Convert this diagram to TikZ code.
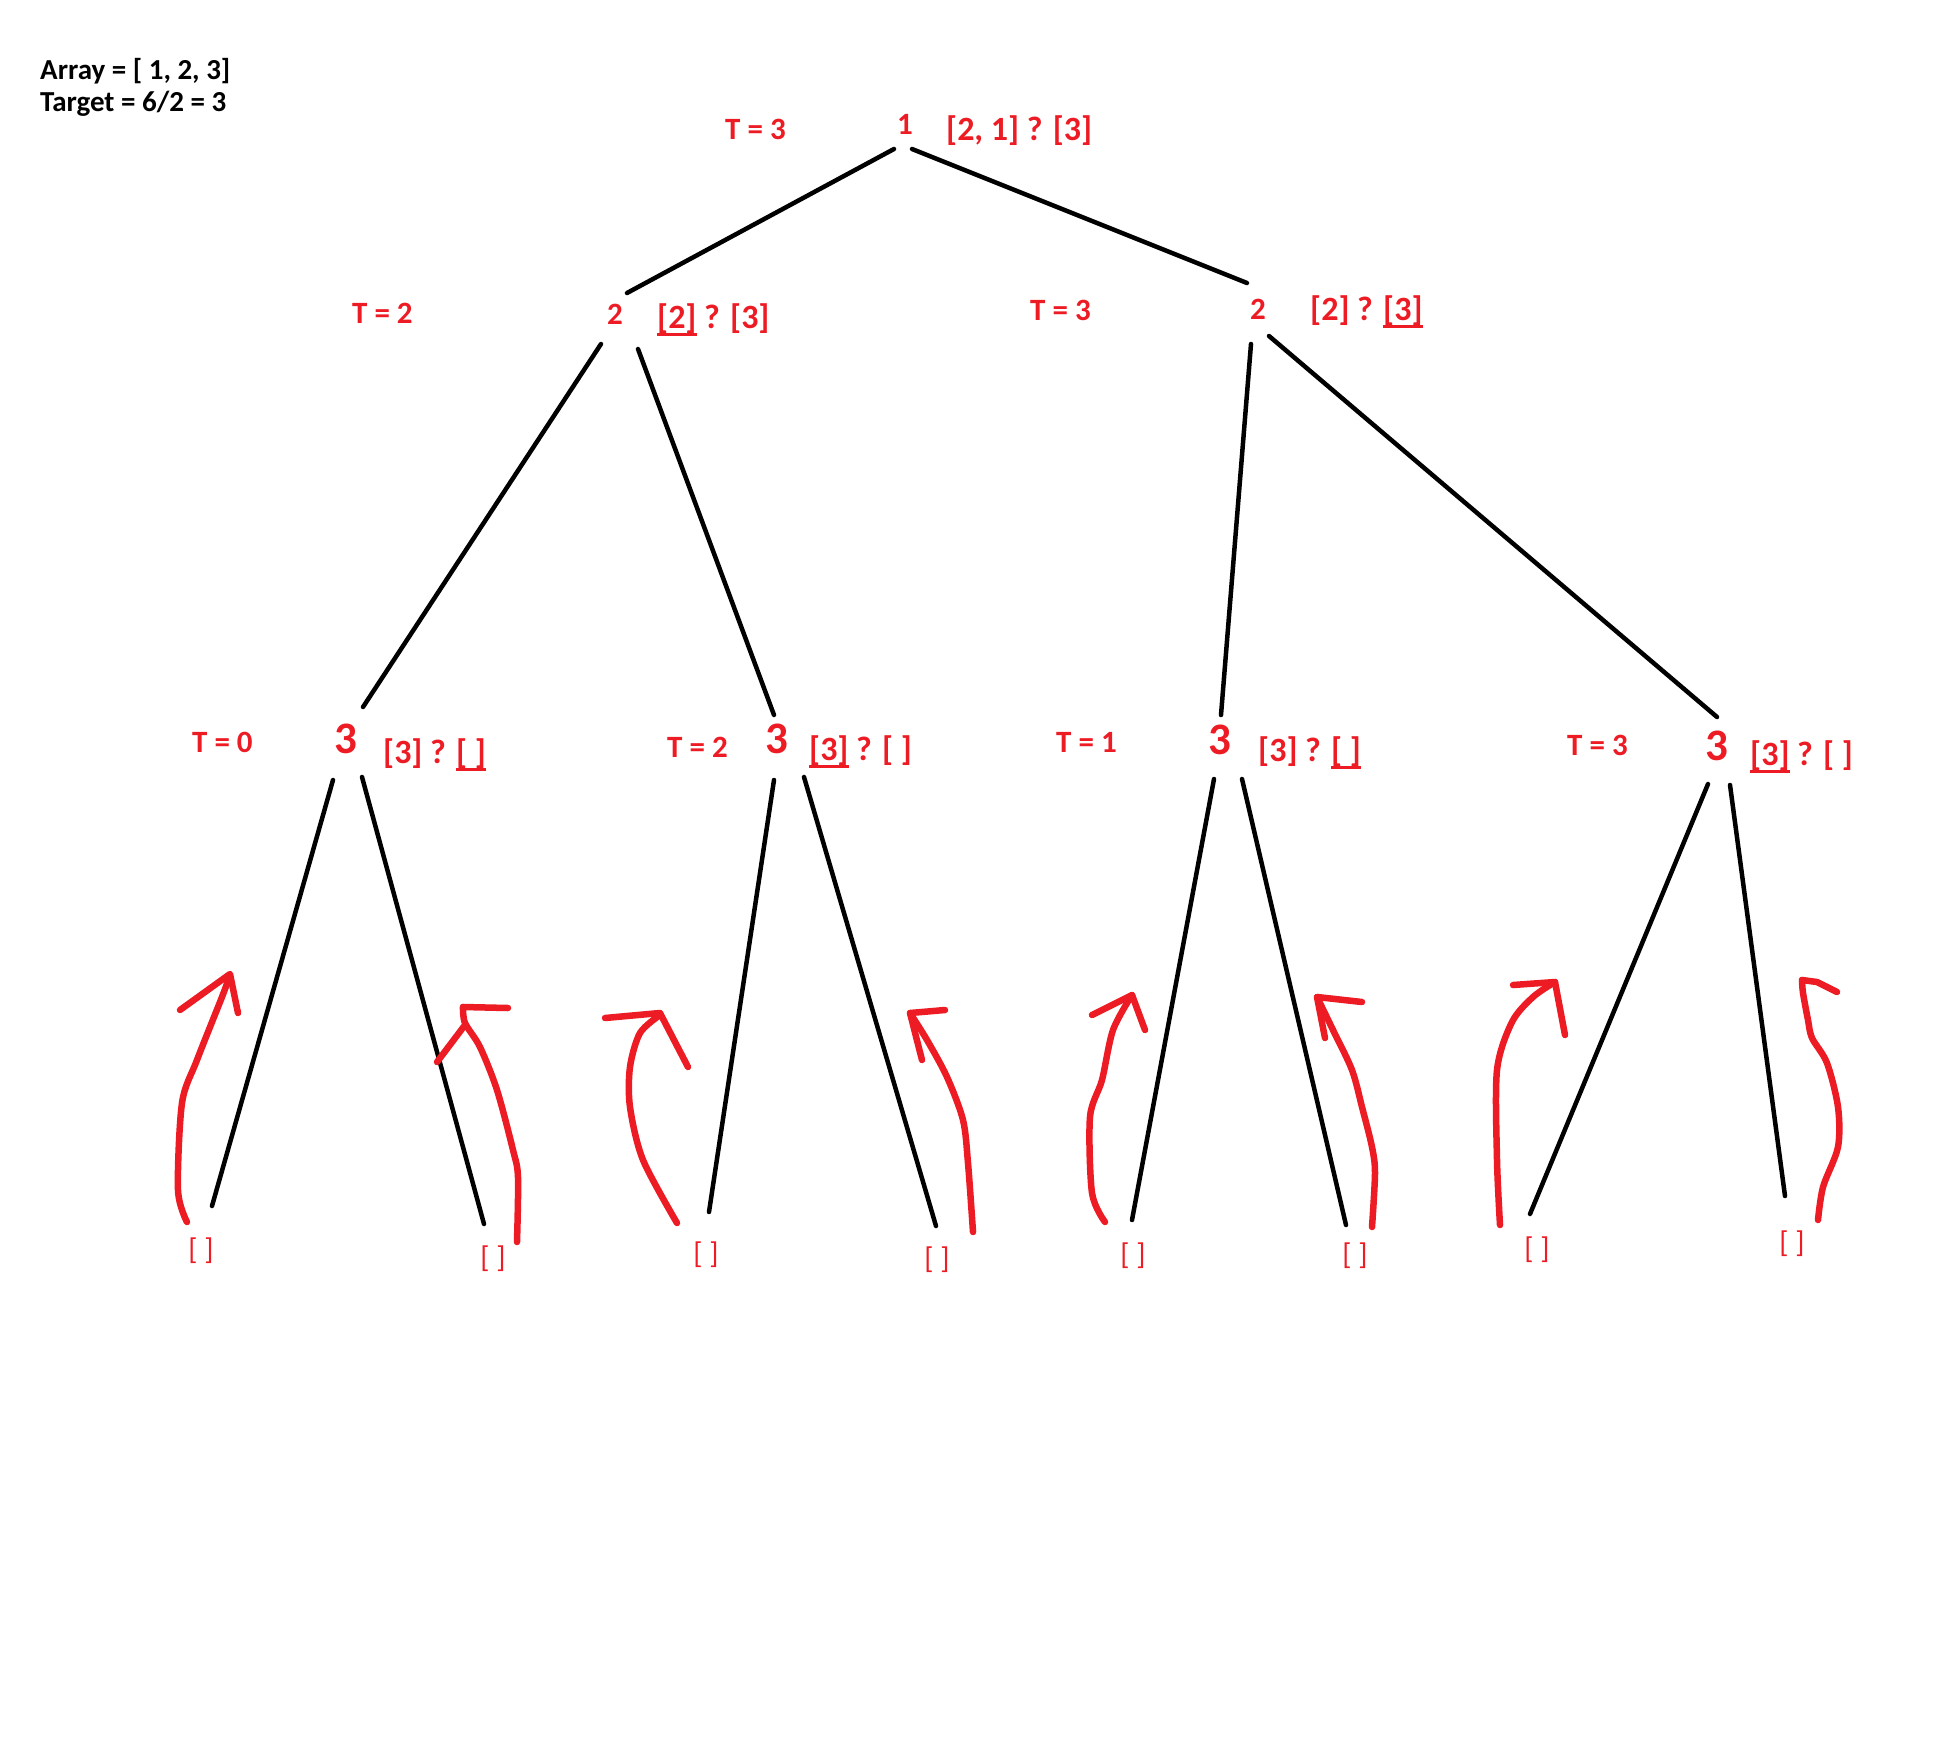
\documentclass[tikz,border=0pt]{standalone}
\usepackage{fontspec}
\setmainfont{Carlito}
\definecolor{pred}{RGB}{237,28,36}
\newcommand\myul[1]{\setbox0\hbox{#1}\rlap{\rule[-7.5pt]{\wd0}{3pt}}\box0\relax}
\begin{document}
\begin{tikzpicture}[x=1pt,y=-1pt,
  edge/.style={line width=4.5pt,line cap=round},
  stroke/.style={pred,line width=6.5pt,line cap=round,line join=round},
  lbl/.style={text=pred,font=\bfseries\fontsize{31}{37}\selectfont,inner sep=0pt},
  ann/.style={text=pred,font=\bfseries\fontsize{34}{40}\selectfont,inner sep=0pt,anchor=base west},
  big/.style={text=pred,font=\bfseries\fontsize{45}{52}\selectfont,inner sep=0pt,anchor=base},
  leaf/.style={text=pred,font=\fontsize{30}{36}\selectfont,inner sep=0pt},
  info/.style={font=\bfseries\fontsize{29}{35}\selectfont,inner sep=0pt,anchor=base west}]
\useasboundingbox[fill=white] (0,0) rectangle (1936,1764);

% header
\node[info] (arr) at (40,79) {Array = [ 1, 2, 3]};
\node[info] (tgt) at (40,111) {Target = 6/2 = 3};

% row 1
\node[lbl,anchor=base west] (t0) at (725,139) {T = 3};
\node[lbl,anchor=base] (n0) at (905,134) {1};
\node[ann] (a0) at (946,140) {[2, 1] ? [3]};

% row 2
\node[lbl,anchor=base west] (t1) at (352,323) {T = 2};
\node[lbl,anchor=base] (n1) at (615,324) {2};
\node[ann] (a1) at (657,328) {\myul{[2]} ? [3]};
\node[lbl,anchor=base west] (t2) at (1030,320) {T = 3};
\node[lbl,anchor=base] (n2) at (1258,319) {2};
\node[ann] (a2) at (1310,320) {[2] ? \myul{[3]}};

% row 3
\node[lbl,anchor=base west] (t3) at (192,752) {T = 0};
\node[big] (n3) at (346,753) {3};
\node[ann] (a3) at (383,763) {[3] ? \myul{[ ]}};
\node[lbl,anchor=base west] (t4) at (667,757) {T = 2};
\node[big] (n4) at (777,753) {3};
\node[ann] (a4) at (809,760) {\myul{[3]} ? [ ]};
\node[lbl,anchor=base west] (t5) at (1056,752) {T = 1};
\node[big] (n5) at (1220,754) {3};
\node[ann] (a5) at (1258,761) {[3] ? \myul{[ ]}};
\node[lbl,anchor=base west] (t6) at (1567,755) {T = 3};
\node[big] (n6) at (1717,760) {3};
\node[ann] (a6) at (1750,765) {\myul{[3]} ? [ ]};

% leaves
\node[leaf] (l1) at (201,1251) {[ ]};
\node[leaf] (l2) at (493,1259) {[ ]};
\node[leaf] (l3) at (706,1255) {[ ]};
\node[leaf] (l4) at (937,1260) {[ ]};
\node[leaf] (l5) at (1133,1256) {[ ]};
\node[leaf] (l6) at (1355,1256) {[ ]};
\node[leaf] (l7) at (1537,1250) {[ ]};
\node[leaf] (l8) at (1792,1244) {[ ]};

% edge end points
\coordinate (e01a) at (894,149);  \coordinate (e01b) at (627,293);
\coordinate (e02a) at (912,149);  \coordinate (e02b) at (1247,283);
\coordinate (e13a) at (601,344);  \coordinate (e13b) at (363,707);
\coordinate (e14a) at (638,349);  \coordinate (e14b) at (774,715);
\coordinate (e25a) at (1251,344); \coordinate (e25b) at (1221,715);
\coordinate (e26a) at (1269,336); \coordinate (e26b) at (1717,717);
\coordinate (e31a) at (333,780);  \coordinate (e31b) at (212,1206);
\coordinate (e32a) at (362,777);  \coordinate (e32b) at (484,1224);
\coordinate (e43a) at (774,780);  \coordinate (e43b) at (709,1212);
\coordinate (e44a) at (804,777);  \coordinate (e44b) at (936,1226);
\coordinate (e55a) at (1214,779); \coordinate (e55b) at (1132,1220);
\coordinate (e56a) at (1242,779); \coordinate (e56b) at (1346,1225);
\coordinate (e67a) at (1708,784); \coordinate (e67b) at (1530,1214);
\coordinate (e68a) at (1730,785); \coordinate (e68b) at (1785,1196);

\foreach \e in {01,02,13,14,25,26,31,32,43,44,55,56,67,68}
  \draw[edge] (e\e a) -- (e\e b);

% red hand-drawn arrows
\draw[stroke] plot[smooth] coordinates {(187,1222) (178,1190) (182,1103) (197,1060) (222,997) (230,975)};
\draw[stroke] (180,1010) -- (230,974) -- (238,1013);

\draw[stroke] plot[smooth] coordinates {(517,1242) (518,1177) (513,1150) (497,1090) (480,1047) (465,1023) (463,1007)};
\draw[stroke] (508,1008) -- (463,1007);
\draw[stroke] (465,1025) -- (437,1062);

\draw[stroke] plot[smooth] coordinates {(677,1223) (643,1160) (630,1107) (630,1067) (640,1033) (660,1015)};
\draw[stroke] (605,1018) -- (660,1013) -- (688,1067);

\draw[stroke] plot[smooth] coordinates {(973,1232) (968,1163) (963,1120) (947,1077) (927,1040) (910,1013)};
\draw[stroke] (945,1010) -- (910,1013) -- (922,1060);

\draw[stroke] plot[smooth] coordinates {(1105,1222) (1092,1193) (1090,1117) (1102,1080) (1113,1030) (1132,995)};
\draw[stroke] (1092,1015) -- (1132,995) -- (1145,1030);

\draw[stroke] plot[smooth] coordinates {(1372,1227) (1375,1173) (1372,1147) (1362,1107) (1352,1070) (1333,1030) (1317,997)};
\draw[stroke] (1362,1002) -- (1317,997) -- (1325,1038);

\draw[stroke] plot[smooth] coordinates {(1500,1225) (1497,1160) (1497,1070) (1512,1022) (1533,997) (1555,982)};
\draw[stroke] (1513,985) -- (1555,982) -- (1565,1035);

\draw[stroke] plot[smooth] coordinates {(1818,1220) (1823,1187) (1838,1147) (1838,1107) (1827,1063) (1812,1038) (1808,1020) (1803,993) (1802,980)};
\draw[stroke] (1802,980) -- (1817,982) -- (1837,992);
\end{tikzpicture}
\end{document}
